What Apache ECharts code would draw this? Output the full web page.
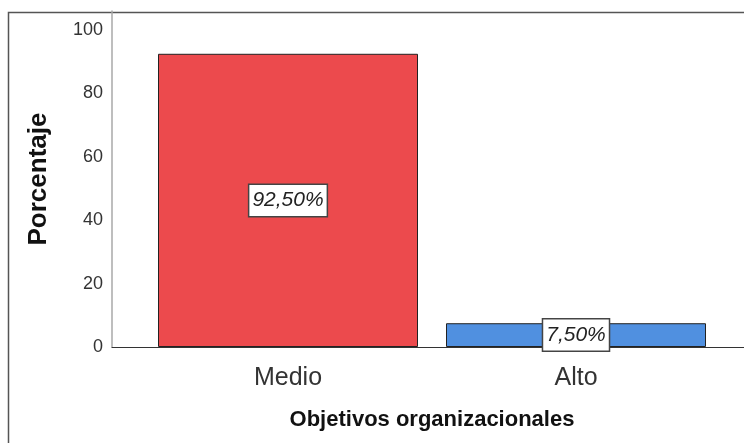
<!DOCTYPE html>
<html>
<head>
<meta charset="utf-8">
<script src="https://cdn.jsdelivr.net/npm/echarts@6/dist/echarts.min.js"></script>
<style>
  html, body { margin: 0; padding: 0; background: #fff; }
  #chart { width: 744px; height: 443px; }
</style>
</head>
<body>
<div id="chart"></div>
<script>
// Objetivos organizacionales: percentage per level
const categories = ['Medio', 'Alto'];
const percentages = [92.5, 7.5];
const barColors = ['#ec4a4d', '#5090e0'];
const yTicks = [0, 20, 40, 60, 80, 100];

const chart = echarts.init(document.getElementById('chart'));

const fmtPct = v => v.toFixed(2).replace('.', ',') + '%';

chart.setOption({
  animation: false,
  backgroundColor: '#fff',
  graphic: [{
    type: 'rect',
    left: 6, top: 10,
    shape: { width: 760, height: 460 },
    style: { fill: 'none', stroke: '#555', lineWidth: 1.5 },
    silent: true
  }],
  grid: [
    { left: 144, right: 24, top: 11, bottom: 96 },
    // wider strip that only carries the full-length baseline
    { left: 112, right: 0, top: 11, bottom: 96 }
  ],
  xAxis: [{
    type: 'category',
    gridIndex: 0,
    data: categories,
    axisLine: { show: false },
    axisTick: { show: false },
    axisLabel: { color: '#333', fontSize: 25, fontFamily: 'Liberation Sans, Arial', margin: 19 },
    name: 'Objetivos organizacionales',
    nameLocation: 'middle',
    nameGap: 62,
    nameTextStyle: { color: '#111', fontSize: 22, fontWeight: 'bold', fontFamily: 'Liberation Sans, Arial' }
  }, {
    type: 'value',
    gridIndex: 1,
    min: 0, max: 1,
    axisLine: { show: true, lineStyle: { color: '#333', width: 1 } },
    axisTick: { show: false },
    axisLabel: { show: false },
    splitLine: { show: false }
  }],
  yAxis: [{
    type: 'value',
    gridIndex: 0,
    min: 0,
    max: 106,
    interval: 20,
    offset: 32,
    axisLine: { show: true, lineStyle: { color: '#a8a8a8', width: 1.5 } },
    axisTick: { show: false },
    splitLine: { show: false },
    axisLabel: {
      color: '#333', fontSize: 18, fontFamily: 'Liberation Sans, Arial', margin: 9,
      showMaxLabel: false,
      formatter: v => (yTicks.includes(v) ? String(v) : '')
    },
    name: 'Porcentaje',
    nameLocation: 'middle',
    nameGap: 60,
    nameTextStyle: { color: '#111', fontSize: 26, fontWeight: 'bold', fontFamily: 'Liberation Sans, Arial' }
  }, {
    type: 'value',
    gridIndex: 1,
    show: false
  }],
  series: [{
    type: 'bar',
    xAxisIndex: 0,
    yAxisIndex: 0,
    barWidth: 260,
    data: percentages.map((v, i) => ({
      value: v,
      itemStyle: { color: barColors[i] }
    })),
    itemStyle: { borderColor: '#222', borderWidth: 1 },
    label: {
      show: true,
      position: 'inside',
      formatter: p => fmtPct(p.value),
      color: '#222',
      fontSize: 21,
      fontStyle: 'italic',
      fontFamily: 'Liberation Sans, Arial',
      backgroundColor: '#fff',
      borderColor: '#444',
      borderWidth: 1.5,
      padding: [6, 3, 4, 3]
    }
  }]
});
</script>
</body>
</html>
